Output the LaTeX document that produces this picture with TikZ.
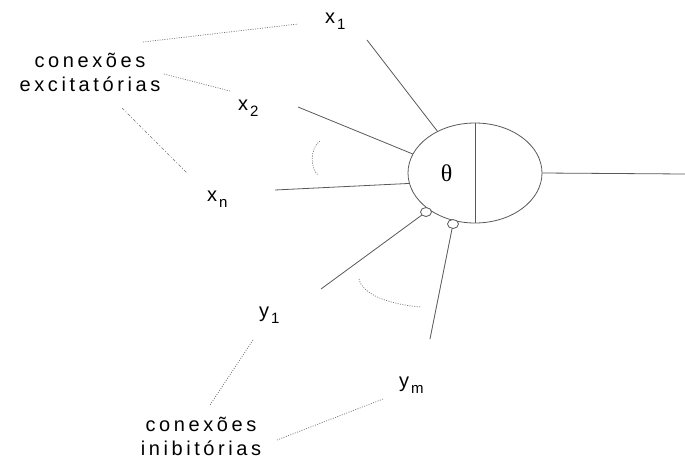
\documentclass[tikz,border=0pt]{standalone}
\usepackage{fontspec}
\setmainfont{Liberation Sans}
\newfontfamily\labfont{Liberation Sans}[LetterSpace=18]
\newfontfamily\thetafont{Liberation Serif}
\usetikzlibrary{shapes.geometric}
\newcommand\sublbl[2]{#1\kern2pt\raisebox{-6pt}{\fontsize{15}{15}\selectfont #2}}
\begin{document}
\begin{tikzpicture}[x=1pt,y=-1pt,
  wire/.style={draw=black!65, line width=0.8pt},
  dots/.style={draw=black!55, line width=0.7pt, dash pattern=on 1pt off 1.4pt},
  lbl/.style={inner sep=0pt, font=\labfont\fontsize{20}{24}\selectfont},
  grp/.style={inner sep=0pt, align=center, font=\labfont\fontsize{20}{24}\selectfont},
  bubble/.style={draw=black!65, line width=0.8pt, ellipse, minimum width=11pt, minimum height=9pt, inner sep=0pt, fill=white}
]
\useasboundingbox (0,0) rectangle (685,461);
% soma
\node[draw=black!65, line width=0.8pt, ellipse, minimum width=134pt, minimum height=100pt, inner sep=0pt] (soma) at (475,173) {};
\draw[wire] (soma.north) -- (soma.south);
\node[inner sep=0pt, font=\thetafont\fontsize{24}{24}\selectfont] (theta) at (446.5,173) {θ};
\coordinate (out) at (685,174);
\draw[wire] (soma.east) -- (out);
% inputs
\node[lbl, anchor=base west] (x1) at (325,23) {\sublbl{x}{1}};
\node[lbl, anchor=base west] (x2) at (238,110) {\sublbl{x}{2}};
\node[lbl, anchor=base west] (xn) at (207,201) {\sublbl{x}{n}};
\node[lbl, anchor=base west] (y1) at (259,317) {\sublbl{y}{1}};
\node[lbl, anchor=base west] (ym) at (399,387) {\sublbl{y}{m}};
\coordinate (x1s) at (367,40);
\coordinate (x2s) at (298,107);
\coordinate (xns) at (275,190);
\coordinate (y1s) at (321,289);
\coordinate (yms) at (430,339);
\draw[wire] (x1s) -- (soma.132.8);
\draw[wire] (x2s) -- (soma.163);
\draw[wire] (xns) -- (soma.189.5);
\node[bubble] (c1) at (426,212) {};
\node[bubble] (c2) at (453,224) {};
\draw[wire] (y1s) -- (c1);
\draw[wire] (yms) -- (c2);
% arcs
\coordinate (a1s) at (320,141);
\coordinate (a1e) at (318,175);
\draw[dots] (a1s) .. controls (310,148) and (310,168) .. (a1e);
\coordinate (a2s) at (359,279);
\coordinate (a2e) at (421,307);
\draw[dots] (a2s) .. controls (362,293) and (385,304) .. (a2e);
% group labels
\node[grp, anchor=base] (exc) at (90,91) {conexões\\excitatórias};
\node[grp, anchor=base] (inb) at (201,455) {conexões\\inibitórias};
\coordinate (e1a) at (143,42);
\coordinate (e1b) at (298,24);
\coordinate (e2a) at (164,74);
\coordinate (e2b) at (230,91);
\coordinate (e3a) at (122,108);
\coordinate (e3b) at (187,173);
\coordinate (i1a) at (253,340);
\coordinate (i1b) at (210,405);
\coordinate (i2a) at (383,399);
\coordinate (i2b) at (277,440);
\draw[dots] (e1a) -- (e1b);
\draw[dots] (e2a) -- (e2b);
\draw[dots, dash pattern=on 3pt off 2pt on 1pt off 2pt] (e3a) -- (e3b);
\draw[dots] (i1a) -- (i1b);
\draw[dots] (i2a) -- (i2b);
\end{tikzpicture}
\end{document}
